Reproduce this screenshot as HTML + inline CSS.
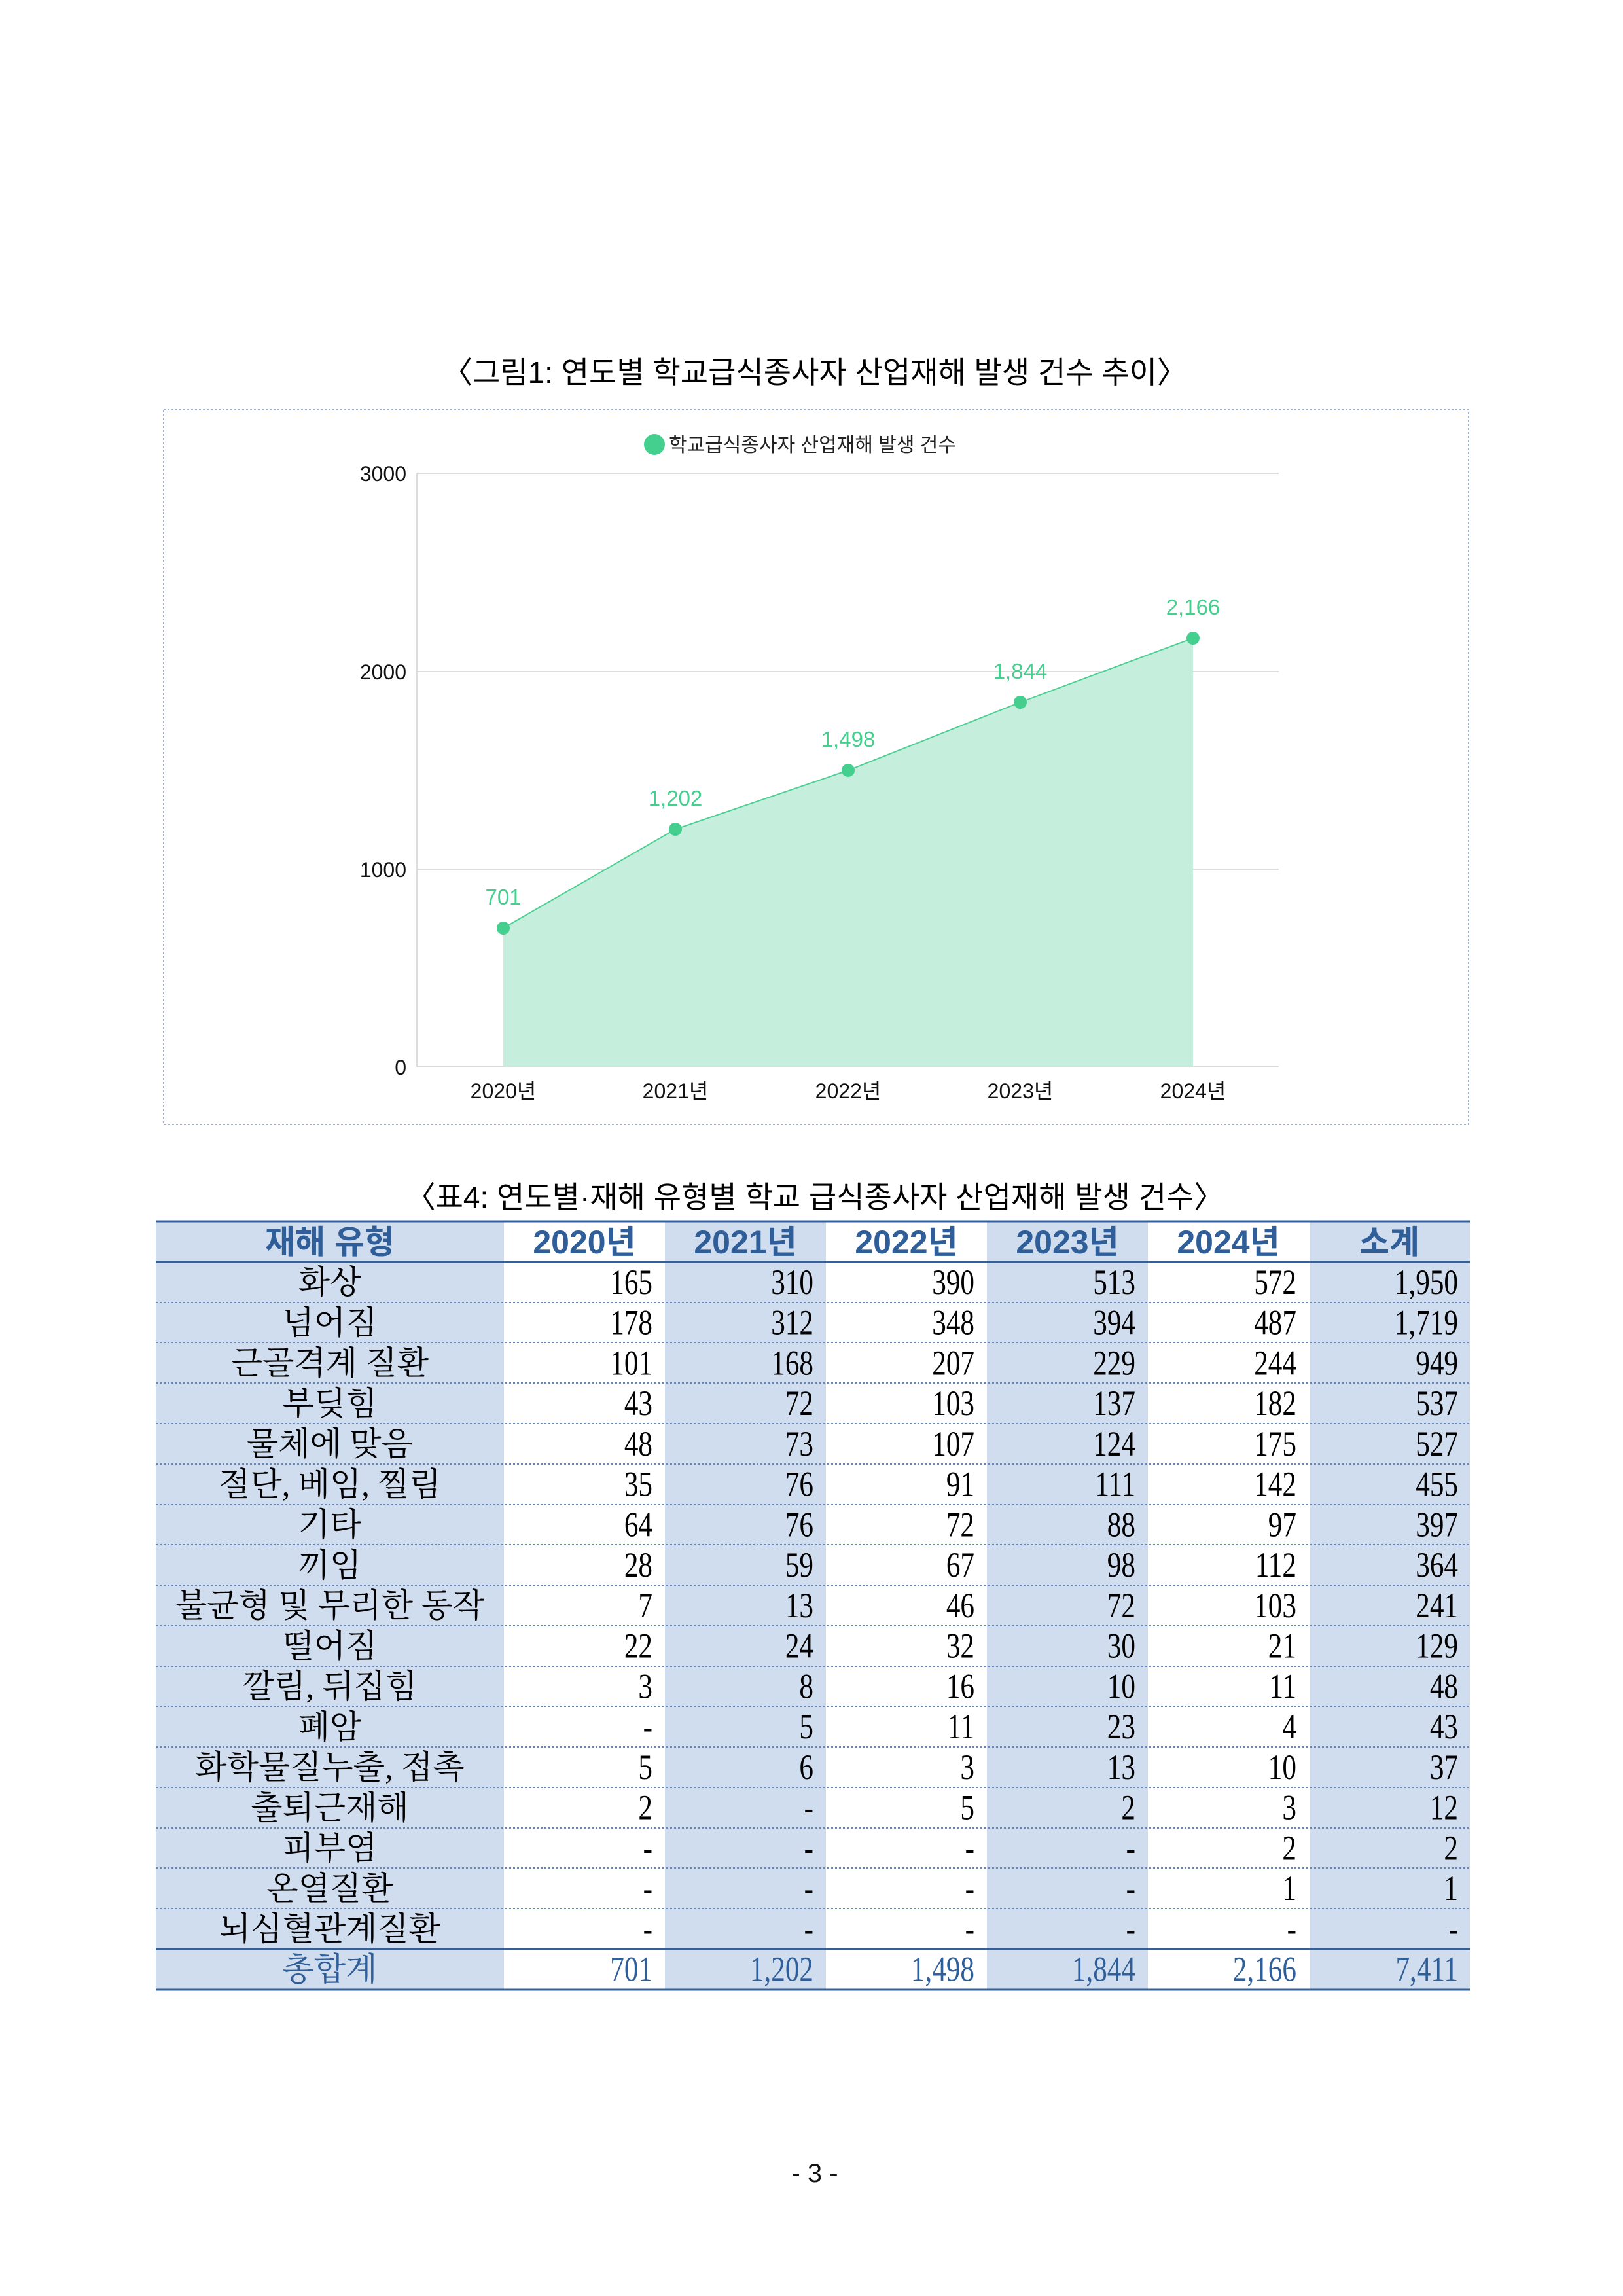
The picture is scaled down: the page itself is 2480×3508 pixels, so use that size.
<!DOCTYPE html>
<html><head><meta charset="utf-8"><style>
html,body{margin:0;padding:0;background:#fff;}
svg{display:block;}
.sans{font-family:"Liberation Sans","Noto Sans CJK KR",sans-serif;}
.serif{font-family:"Liberation Serif","Noto Serif CJK SC",serif;}
</style></head><body>
<svg width="2480" height="3508" viewBox="0 0 2480 3508" xmlns="http://www.w3.org/2000/svg">
<rect width="2480" height="3508" fill="#fff"/>
<text x="1245" y="585" text-anchor="middle" class="sans" font-size="46" fill="#000">〈그림1: 연도별 학교급식종사자 산업재해 발생 건수 추이〉</text>
<rect x="250" y="626" width="1994" height="1092" fill="none" stroke="#9fb0cf" stroke-width="2" stroke-dasharray="3,3"/>
<circle cx="1000" cy="679" r="16" fill="#44cf8f"/>
<text x="1022" y="690" class="sans" font-size="30" fill="#222">학교급식종사자 산업재해 발생 건수</text>
<g stroke="#dcdcdc" stroke-width="2">
<line x1="637" y1="723" x2="1954" y2="723"/>
<line x1="637" y1="1026" x2="1954" y2="1026"/>
<line x1="637" y1="1328" x2="1954" y2="1328"/>
<line x1="637" y1="1630" x2="1954" y2="1630"/>
<line x1="637" y1="723" x2="637" y2="1630"/>
</g>
<g class="sans" font-size="32" fill="#111" text-anchor="end">
<text x="621" y="735">3000</text><text x="621" y="1038">2000</text><text x="621" y="1340">1000</text><text x="621" y="1642">0</text>
</g>
<polygon points="769,1630 769,1418 1032,1267 1296,1177 1559,1073 1823,975 1823,1630" fill="#c5efdc"/>
<polyline points="769,1418 1032,1267 1296,1177 1559,1073 1823,975" fill="none" stroke="#4ccf93" stroke-width="2"/>
<g fill="#44cf8f"><circle cx="769" cy="1418" r="10"/><circle cx="1032" cy="1267" r="10"/><circle cx="1296" cy="1177" r="10"/><circle cx="1559" cy="1073" r="10"/><circle cx="1823" cy="975" r="10"/></g>
<g class="sans" font-size="33" fill="#44cf8f" text-anchor="middle">
<text x="769" y="1382">701</text><text x="1032" y="1231">1,202</text><text x="1296" y="1141">1,498</text><text x="1559" y="1037">1,844</text><text x="1823" y="939">2,166</text>
</g>
<g class="sans" font-size="32" fill="#111" text-anchor="middle">
<text x="769" y="1678">2020년</text><text x="1032" y="1678">2021년</text><text x="1296" y="1678">2022년</text><text x="1559" y="1678">2023년</text><text x="1823" y="1678">2024년</text>
</g>
<text x="1245" y="1845" text-anchor="middle" class="sans" font-size="46" fill="#000">〈표4: 연도별·재해 유형별 학교 급식종사자 산업재해 발생 건수〉</text>
<g fill="#d0ddef">
<rect x="238" y="1866" width="532" height="1174"/>
<rect x="1016" y="1866" width="246" height="1174"/>
<rect x="1508" y="1866" width="246" height="1174"/>
<rect x="2001" y="1866" width="245" height="1174"/>
</g>
<g stroke="#34609a" stroke-width="3">
<line x1="238" y1="1866" x2="2246" y2="1866"/><line x1="238" y1="1928" x2="2246" y2="1928"/>
<line x1="238" y1="2978" x2="2246" y2="2978"/><line x1="238" y1="3040" x2="2246" y2="3040"/>
</g>
<g stroke="#6a85b0" stroke-width="2" stroke-dasharray="3,3">
<line x1="238" y1="1990" x2="2246" y2="1990"/><line x1="238" y1="2051" x2="2246" y2="2051"/><line x1="238" y1="2113" x2="2246" y2="2113"/><line x1="238" y1="2175" x2="2246" y2="2175"/><line x1="238" y1="2237" x2="2246" y2="2237"/><line x1="238" y1="2299" x2="2246" y2="2299"/><line x1="238" y1="2360" x2="2246" y2="2360"/><line x1="238" y1="2422" x2="2246" y2="2422"/><line x1="238" y1="2484" x2="2246" y2="2484"/><line x1="238" y1="2546" x2="2246" y2="2546"/><line x1="238" y1="2607" x2="2246" y2="2607"/><line x1="238" y1="2669" x2="2246" y2="2669"/><line x1="238" y1="2731" x2="2246" y2="2731"/><line x1="238" y1="2793" x2="2246" y2="2793"/><line x1="238" y1="2854" x2="2246" y2="2854"/><line x1="238" y1="2916" x2="2246" y2="2916"/>
</g>
<g class="sans" font-size="50" font-weight="bold" fill="#2f5e98" text-anchor="middle">
<text x="504" y="1915">재해 유형</text><text x="893" y="1915">2020년</text><text x="1139" y="1915">2021년</text><text x="1385" y="1915">2022년</text><text x="1631" y="1915">2023년</text><text x="1877" y="1915">2024년</text><text x="2123" y="1915">소계</text>
</g>
<g class="serif" fill="#000" id="tb"></g>
<text x="1245" y="3334" text-anchor="middle" class="sans" font-size="40" fill="#111">-  3  -</text>
</svg>
<script>
var rows=[["화상","165","310","390","513","572","1,950"],["넘어짐","178","312","348","394","487","1,719"],["근골격계 질환","101","168","207","229","244","949"],["부딪힘","43","72","103","137","182","537"],["물체에 맞음","48","73","107","124","175","527"],["절단, 베임, 찔림","35","76","91","111","142","455"],["기타","64","76","72","88","97","397"],["끼임","28","59","67","98","112","364"],["불균형 및 무리한 동작","7","13","46","72","103","241"],["떨어짐","22","24","32","30","21","129"],["깔림, 뒤집힘","3","8","16","10","11","48"],["폐암","-","5","11","23","4","43"],["화학물질누출, 접촉","5","6","3","13","10","37"],["출퇴근재해","2","-","5","2","3","12"],["피부염","-","-","-","-","2","2"],["온열질환","-","-","-","-","1","1"],["뇌심혈관계질환","-","-","-","-","-","-"],["총합계","701","1,202","1,498","1,844","2,166","7,411"]];
var rx=[997,1243,1489,1735,1981,2228];
var g=document.getElementById("tb"),s="";
rows.forEach(function(r,i){var y=1928+i*61.75+49;var c=i==17?"#2f5e98":"#000";
s+='<text x="504" y="'+(y-1)+'" font-size="50" text-anchor="middle" fill="'+c+'">'+r[0]+'</text>';
for(var j=1;j<7;j++){s+='<text x="'+rx[j-1]+'" y="'+y+'" font-size="54" text-anchor="end" fill="'+c+'" transform="translate('+rx[j-1]+',0) scale(0.8,1) translate('+(-rx[j-1])+',0)">'+r[j]+'</text>';}
});
g.innerHTML=s;
</script>
</body></html>
